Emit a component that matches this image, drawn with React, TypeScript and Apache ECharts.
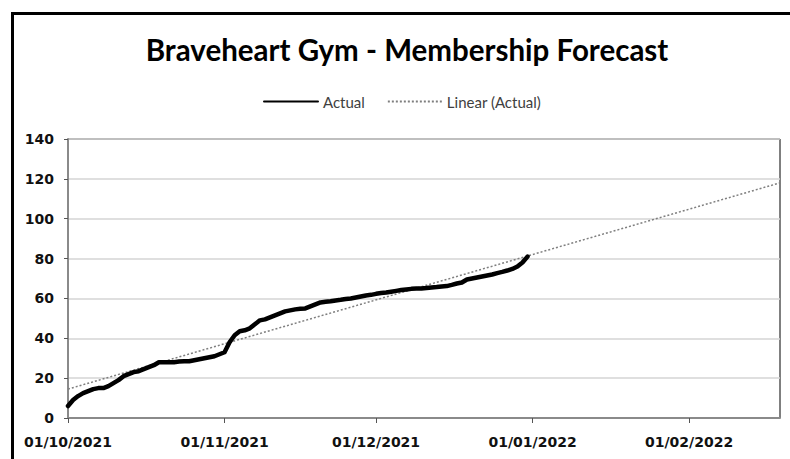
import React, { useEffect, useRef } from "react";
import * as echarts from "echarts";

const TITLE = "Braveheart Gym - Membership Forecast";
const SERIES_NAMES = ["Actual", "Linear (Actual)"];

// Daily membership count, 1 Oct 2021 to 31 Dec 2021
const START_DATE = "2021-10-01";
const actualValues = [
  6, 9, 11, 12.5, 13.5, 14.5, 15, 15, 16, 17.5,
  19, 21, 22, 23, 23.5, 24.5, 25.5, 26.5, 28, 28,
  28, 28, 28.3, 28.5, 28.5, 29, 29.5, 30, 30.5, 31,
  32, 33, 38, 41.5, 43.5, 44, 45, 47, 49, 49.5,
  50.5, 51.5, 52.5, 53.5, 54, 54.5, 54.8, 55, 56, 57,
  58, 58.3, 58.6, 59, 59.3, 59.7, 60, 60.5, 61, 61.5,
  61.8, 62.3, 62.7, 63, 63.4, 63.8, 64.2, 64.5, 64.8, 65,
  65, 65.2, 65.5, 65.7, 66, 66.2, 66.8, 67.5, 68, 69.5,
  70, 70.5, 71, 71.5, 72, 72.7, 73.3, 74, 74.8, 76,
  78, 81,
];

// Linear trendline end points
const trendDates = ["2021-10-01", "2022-02-19"];
const trendValues = [14.5, 118];

// Axis
const xMin = "2021-10-01";
const xMax = "2022-02-19";
const xTickDates = ["2021-10-01", "2021-11-01", "2021-12-01", "2022-01-01", "2022-02-01"];
const yMin = 0;
const yMax = 140;
const yInterval = 20;

const ts = (s: string) => {
  const [y, m, d] = s.split("-").map(Number);
  return Date.UTC(y, m - 1, d);
};
const DAY = 86400000;
const actualDates = actualValues.map((_, i) => ts(START_DATE) + i * DAY);

const pad = (n: number) => (n < 10 ? "0" + n : "" + n);
const fmt = (v: number) => {
  const d = new Date(v);
  return `${pad(d.getUTCDate())}/${pad(d.getUTCMonth() + 1)}/${d.getUTCFullYear()}`;
};

const FONT = "Lato, 'Open Sans', sans-serif";
const AXIS_FONT = "'DejaVu Sans', 'Open Sans', sans-serif";

export default function App() {
  const ref = useRef<HTMLDivElement>(null);
  useEffect(() => {
    if (!ref.current) return;
    const chart = echarts.init(ref.current, undefined, { renderer: "svg" });
    const tickVals = xTickDates.map(ts);
    chart.setOption({
      animation: false,
      backgroundColor: "#fff",
      title: {
        text: TITLE,
        left: 402,
        top: 29,
        textAlign: "center",
        textStyle: { fontFamily: FONT, fontWeight: "bold", fontSize: 29.5, color: "#000" },
      },
      legend: {
        left: 258,
        top: 89,
        itemWidth: 54,
        itemHeight: 16,
        itemGap: 22,
        itemStyle: { opacity: 0 },
        textStyle: { fontFamily: FONT, fontSize: 15, color: "#404040" },
        data: SERIES_NAMES,
      },
      graphic: [
        {
          type: "rect",
          z: -1,
          shape: { x: 12.5, y: 13.5, width: 900, height: 600 },
          style: { fill: "none", stroke: "#000", lineWidth: 3 },
        },
      ],
      grid: {
        left: 68,
        top: 139,
        right: 10,
        bottom: 41,
        show: true,
        borderColor: "#000",
        borderWidth: 1,
        containLabel: false,
      },
      xAxis: {
        type: "value",
        min: ts(xMin),
        max: ts(xMax),
        axisLine: { show: true, lineStyle: { color: "#8a8a8a", width: 2 } },
        axisTick: { show: true, length: 5, customValues: tickVals, lineStyle: { color: "#555" } },
        axisLabel: {
          customValues: tickVals,
          formatter: (v: number) => fmt(v),
          fontFamily: AXIS_FONT,
          fontWeight: "bold",
          fontSize: 14,
          color: "#111",
          margin: 17,
        },
        splitLine: { show: false },
      },
      yAxis: {
        type: "value",
        min: yMin,
        max: yMax,
        interval: yInterval,
        axisLine: { show: true, lineStyle: { color: "#8a8a8a", width: 2 } },
        axisTick: { show: true, length: 4, lineStyle: { color: "#555" } },
        axisLabel: {
          fontFamily: AXIS_FONT,
          fontWeight: "bold",
          fontSize: 14,
          color: "#111",
          margin: 14,
        },
        splitLine: { show: true, lineStyle: { color: "#d4d4d4", width: 1.5 } },
      },
      series: [
        {
          name: SERIES_NAMES[0],
          type: "line",
          showSymbol: false,
          symbol: "none",
          data: actualDates.map((d, i) => [d, actualValues[i]]),
          lineStyle: { color: "#000", width: 4.5, cap: "round", join: "round" },
          itemStyle: { color: "#000" },
          z: 3,
        },
        {
          name: SERIES_NAMES[1],
          type: "line",
          showSymbol: false,
          symbol: "none",
          data: trendDates.map((d, i) => [ts(d), trendValues[i]]),
          lineStyle: { color: "#7f7f7f", width: 1.5, type: [2, 2] },
          itemStyle: { color: "#7f7f7f" },
          z: 2,
        },
      ],
    });
    return () => chart.dispose();
  }, []);
  return <div ref={ref} style={{ width: 790, height: 459, position: "absolute", left: 0, top: 0 }} />;
}
